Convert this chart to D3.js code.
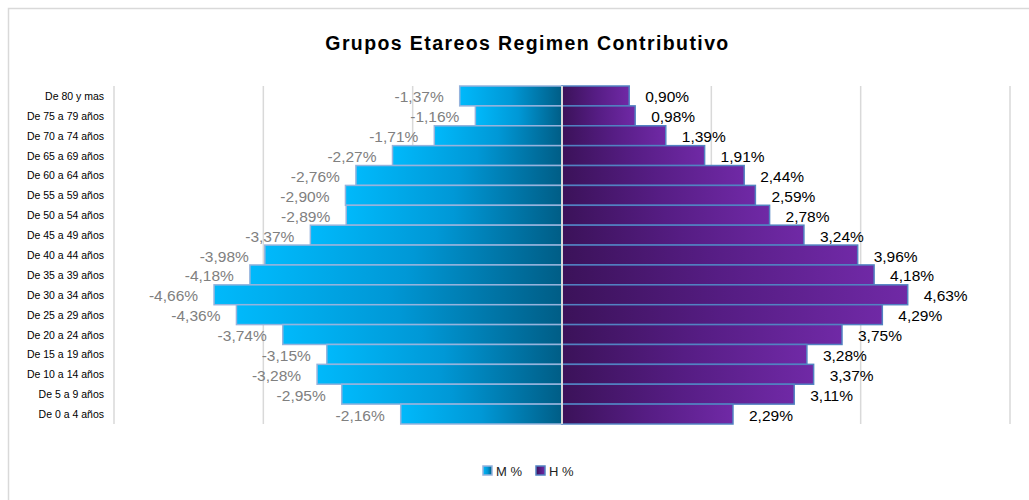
<!DOCTYPE html>
<html>
<head>
<meta charset="utf-8">
<script src="https://cdn.jsdelivr.net/npm/d3@7"></script>
<style>
  body { margin: 0; background: #fff; }
  svg { display: block; font-family: "Liberation Sans", Arial, sans-serif; }
</style>
</head>
<body>
<svg class="chart" width="1029" height="500"></svg>
<script>
// Grupos de edad (de arriba hacia abajo)
var grupos = ["De 80 y mas", "De 75 a 79 años", "De 70 a 74 años", "De 65 a 69 años",
  "De 60 a 64 años", "De 55 a 59 años", "De 50 a 54 años", "De 45 a 49 años",
  "De 40 a 44 años", "De 35 a 39 años", "De 30 a 34 años", "De 25 a 29 años",
  "De 20 a 24 años", "De 15 a 19 años", "De 10 a 14 años", "De 5 a 9 años", "De 0 a 4 años"];

// Mujeres (negativo, a la izquierda) y hombres, en %
var mujeres = [-1.37, -1.16, -1.71, -2.27, -2.76, -2.90, -2.89, -3.37, -3.98, -4.18,
  -4.66, -4.36, -3.74, -3.15, -3.28, -2.95, -2.16];
var hombres = [0.90, 0.98, 1.39, 1.91, 2.44, 2.59, 2.78, 3.24, 3.96, 4.18,
  4.63, 4.29, 3.75, 3.28, 3.37, 3.11, 2.29];

var gridTicks = [-6, -4, -2, 0, 2, 4, 6];
var series = ["M %", "H %"];

var svg = d3.select(".chart");

// borde del área del gráfico
svg.append("rect")
  .attr("x", 8.5).attr("y", 8.5)
  .attr("width", 1040).attr("height", 500)
  .attr("fill", "#fff")
  .attr("stroke", "#d9d9d9")
  .attr("stroke-width", 1.5);

var x = d3.scaleLinear().domain([-6, 6]).range([114, 1010]);
var y = d3.scaleBand().domain(grupos).range([86, 424]).padding(0);

var es = d3.formatLocale({decimal: ",", thousands: ".", grouping: [3], currency: ["", ""], minus: "-"});
var fmt = es.format(".2f");

// gradientes
var defs = svg.append("defs");
var gM = defs.append("linearGradient").attr("id", "gradM")
  .attr("x1", "0").attr("x2", "1").attr("y1", "0").attr("y2", "0");
gM.append("stop").attr("offset", "0").attr("stop-color", "#00b9fb");
gM.append("stop").attr("offset", "0.5").attr("stop-color", "#0098d6");
gM.append("stop").attr("offset", "1").attr("stop-color", "#005d86");

var gH = defs.append("linearGradient").attr("id", "gradH")
  .attr("x1", "0").attr("x2", "1").attr("y1", "0").attr("y2", "0");
gH.append("stop").attr("offset", "0").attr("stop-color", "#3b1259");
gH.append("stop").attr("offset", "0.5").attr("stop-color", "#561d84");
gH.append("stop").attr("offset", "1").attr("stop-color", "#7029a6");

// Líneas de división
svg.append("g").selectAll("line")
  .data(gridTicks.filter(function(d){ return d != 0; }))
  .enter().append("line")
  .attr("x1", function(d){ return x(d); })
  .attr("x2", function(d){ return x(d); })
  .attr("y1", 86).attr("y2", 424)
  .attr("stroke", "#d9d9d9")
  .attr("stroke-width", 1.5);

// Barras mujeres
svg.append("g").selectAll("rect")
  .data(mujeres)
  .enter().append("rect")
  .attr("x", function(d){ return x(d); })
  .attr("y", function(d, i){ return y(grupos[i]); })
  .attr("width", function(d){ return x(0) - x(d); })
  .attr("height", y.bandwidth())
  .attr("fill", "url(#gradM)")
  .attr("stroke", "#95b3dd")
  .attr("stroke-width", 1.5);

// Barras hombres
svg.append("g").selectAll("rect")
  .data(hombres)
  .enter().append("rect")
  .attr("x", x(0))
  .attr("y", function(d, i){ return y(grupos[i]); })
  .attr("width", function(d){ return x(d) - x(0); })
  .attr("height", y.bandwidth())
  .attr("fill", "url(#gradH)")
  .attr("stroke", "#5282c2")
  .attr("stroke-width", 1.5);

// eje central
svg.append("line")
  .attr("x1", x(0)).attr("x2", x(0))
  .attr("y1", 86).attr("y2", 424)
  .attr("stroke", "#d9d9d9")
  .attr("stroke-width", 2);

// Etiquetas de datos
svg.append("g").selectAll("text")
  .data(mujeres)
  .enter().append("text")
  .attr("x", function(d){ return x(d) - 16; })
  .attr("y", function(d, i){ return y(grupos[i]) + y.bandwidth() / 2 + 1; })
  .attr("dominant-baseline", "central")
  .attr("text-anchor", "end")
  .attr("font-size", "15.5px")
  .attr("fill", "#808080")
  .text(function(d){ return fmt(d) + "%"; });

svg.append("g").selectAll("text")
  .data(hombres)
  .enter().append("text")
  .attr("x", function(d){ return x(d) + 16; })
  .attr("y", function(d, i){ return y(grupos[i]) + y.bandwidth() / 2 + 1; })
  .attr("dominant-baseline", "central")
  .attr("font-size", "15.5px")
  .attr("fill", "#000")
  .text(function(d){ return fmt(d) + "%"; });

// Eje de categorías
svg.append("g").selectAll("text")
  .data(grupos)
  .enter().append("text")
  .attr("x", 104)
  .attr("y", function(d){ return y(d) + y.bandwidth() / 2; })
  .attr("dominant-baseline", "central")
  .attr("text-anchor", "end")
  .attr("font-size", "10.5px")
  .attr("fill", "#000")
  .text(function(d){ return d; });

// Título
svg.append("text")
  .attr("x", 527.5).attr("y", 50)
  .attr("text-anchor", "middle")
  .attr("font-size", "19.5px")
  .attr("font-weight", "bold")
  .attr("letter-spacing", "1.4px")
  .attr("fill", "#000")
  .text("Grupos Etareos Regimen Contributivo");

// Leyenda
var legend = svg.append("g").attr("transform", "translate(483,466)");
var lx = [0, 53];
series.forEach(function(s, i) {
  var g = legend.append("g").attr("transform", "translate(" + lx[i] + ",0)");
  g.append("rect")
    .attr("width", 9).attr("height", 9)
    .attr("fill", i == 0 ? "url(#gradM)" : "url(#gradH)")
    .attr("stroke", i == 0 ? "#95b3dd" : "#5282c2")
    .attr("stroke-width", 1.5);
  g.append("text")
    .attr("x", 13).attr("y", 9.5)
    .attr("font-size", "13px")
    .attr("fill", "#222")
    .text(s);
});
</script>
</body>
</html>
